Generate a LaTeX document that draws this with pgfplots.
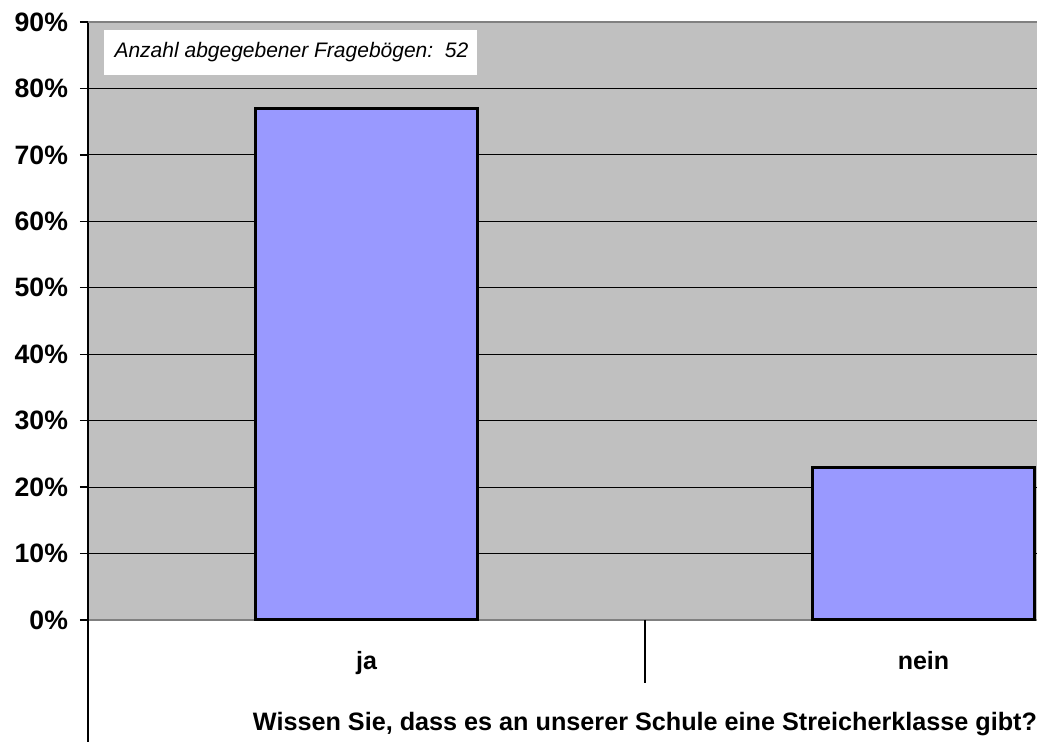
\documentclass[border=0pt]{standalone}
\usepackage{pgfplots}
\pgfplotsset{compat=1.18}
\usepackage{fontspec}
\setmainfont{Liberation Sans}
\definecolor{plotbg}{HTML}{C0C0C0}
\definecolor{barfill}{HTML}{9999FF}
\definecolor{axgray}{HTML}{808080}
\begin{document}
\begin{tikzpicture}
\useasboundingbox (0,0) rectangle (518.5pt,371pt);
\clip (0,0) rectangle (518.5pt,371pt);
\begin{axis}[
  at={(44pt,61pt)}, anchor=south west,
  scale only axis, width=557pt, height=299pt,
  xmin=0, xmax=2, ymin=0, ymax=90,
  axis background/.style={fill=plotbg},
  axis x line*=bottom, axis y line*=left,
  x axis line style={draw=axgray, line width=1pt, -},
  y axis line style={draw=black, line width=1pt, -},
  ytick={0,10,...,90},
  yticklabels={0\%,10\%,20\%,30\%,40\%,50\%,60\%,70\%,80\%,90\%},
  ymajorgrids, grid style={black, line width=0.5pt},
  ytick style={black, line width=0.7pt},
  tick align=outside, major tick length=4pt,
  xtick={0.5,1.5}, xticklabels={ja,nein},
  xtick style={draw=none},
  ticklabel style={font=\bfseries\fontsize{12.5}{14}\selectfont},
  yticklabel style={font=\bfseries\fontsize{13.3}{15}\selectfont, xshift=-2.5pt},
  xticklabel style={yshift=-8pt},
  xlabel={Wissen Sie, dass es an unserer Schule eine Streicherklasse gibt?},
  xlabel style={at={(axis description cs:0.5,0)}, anchor=base, yshift=-55.5pt, font=\bfseries\fontsize{12.6}{14}\selectfont},
  clip=false,
]
\addplot[ybar, bar width=111pt, fill=barfill, draw=black, line width=1.5pt] coordinates {(0.5,77) (1.5,23)};
\draw[axgray, line width=1pt] (axis cs:0,90) -- (axis cs:2,90);
\fill[white] (axis cs:0.029,82) rectangle (axis cs:0.698,88.8);
\node[anchor=west, font=\itshape\fontsize{10.5}{12}\selectfont] at (axis cs:0.035,85.4) {Anzahl abgegebener Fragebögen:\ \ 52};
\draw[black, line width=1pt] (axis cs:1,0) -- ([yshift=-31.5pt]axis cs:1,0);
\end{axis}
\draw[black, line width=1pt] (44pt,0) -- (44pt,61pt);
\end{tikzpicture}
\end{document}
